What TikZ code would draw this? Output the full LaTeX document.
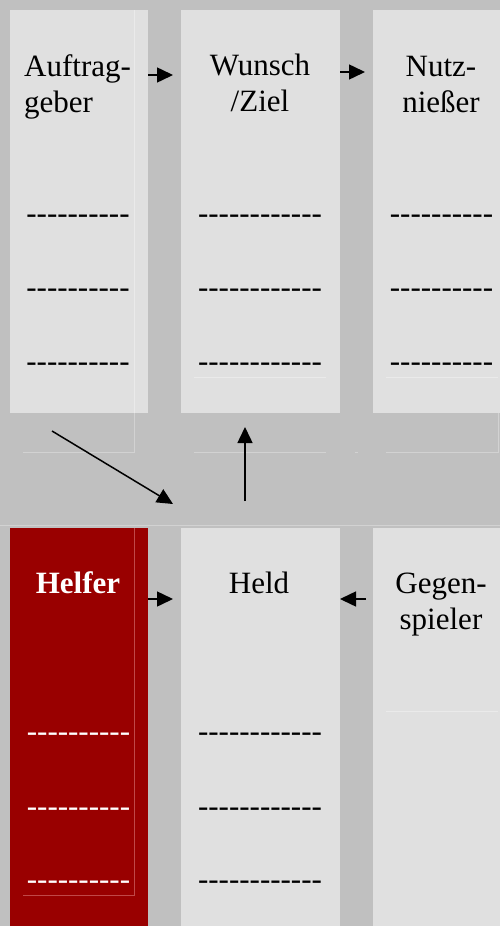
\documentclass[tikz,border=0pt]{standalone}
\usepackage{fontspec}
\setmainfont{Liberation Serif}
\usetikzlibrary{arrows.meta}

\definecolor{bggray}{HTML}{C0C0C0}
\definecolor{cellgray}{HTML}{E0E0E0}
\definecolor{helferred}{HTML}{990000}
\definecolor{rulegray}{HTML}{D2D2D2}
\definecolor{rulelight}{HTML}{EAEAEA}
\definecolor{rulered}{HTML}{C04848}

% a row of separate hyphens (no en/em dash ligatures)
\newcommand\hyphenrow[1]{\foreach \k in {1,...,#1}{\mbox{-}}}

\tikzset{
  cell/.style={fill=cellgray, draw=none, inner sep=0pt, outer sep=0pt},
  redcell/.style={cell, fill=helferred},
  lbl/.style={inner sep=0pt, font=\fontsize{31}{36}\selectfont},
  lblc/.style={lbl, align=center, anchor=base},
  dashrow/.style={lbl, anchor=base},
  conn/.style={line width=1.5pt, -{Triangle[length=16pt,width=15pt]}},
  faint/.style={line width=0.8pt, draw=rulegray},
}

\begin{document}
\begin{tikzpicture}[x=1pt,y=-1pt]
  % page background
  \fill[bggray] (0,0) rectangle (500,926);
  \useasboundingbox (0,0) rectangle (500,926);

  % column cells, top row
  \node[cell, minimum width=138pt, minimum height=403pt] (auf) at (79,211.5) {};
  \node[cell, minimum width=159pt, minimum height=403pt] (wun) at (260.5,211.5) {};
  \node[cell, minimum width=127pt, minimum height=403pt] (nutz) at (436.5,211.5) {};
  % column cells, bottom row
  \node[redcell, minimum width=138pt, minimum height=398pt] (helf) at (79,727) {};
  \node[cell, minimum width=159pt, minimum height=398pt] (held) at (260.5,727) {};
  \node[cell, minimum width=127pt, minimum height=398pt] (gegen) at (436.5,727) {};

  % faint table rules
  \draw[rulelight, line width=0.8pt] (134.5,10) -- (134.5,413);
  \draw[faint] (134.5,413) -- (134.5,452);
  \draw[faint] (23,452) -- (134.5,452);
  \draw[faint] (194,452) -- (326,452);
  \draw[faint] (355,452) -- (358,452);
  \draw[faint] (386,452) -- (498,452) -- (498,413);
  \draw[rulelight, line width=0.8pt] (194,377) -- (326,377);
  \draw[rulelight, line width=0.8pt] (386,377) -- (498,377);
  \draw[faint] (0,525) -- (500,525);
  \draw[rulered, line width=0.8pt] (134.5,528) -- (134.5,895) -- (23,895);
  \draw[rulelight, line width=0.8pt] (386,711.5) -- (498,711.5);

  % headings (base anchor sits on the last line)
  \node[lbl, align=left, anchor=base west] (tauf) at (24,112) {Auftrag-\\geber};
  \node[lblc] (twun) at (260,111) {Wunsch\\/Ziel};
  \node[lblc] (tnutz) at (441,112) {Nutz-\\nießer};
  \node[lblc, text=white, font=\fontsize{31}{36}\selectfont\bfseries] (thelf) at (78,593) {Helfer};
  \node[lblc] (theld) at (259,593) {Held};
  \node[lblc] (tgegen) at (441,629) {Gegen-\\spieler};

  % placeholder dash rows, top row
  \foreach \yy [count=\i] in {223,297,371} {
    \node[dashrow] (da\i) at (78,\yy) {\hyphenrow{10}};
    \node[dashrow] (db\i) at (260,\yy) {\hyphenrow{12}};
    \node[dashrow] (dc\i) at (441.5,\yy) {\hyphenrow{10}};
  }
  % placeholder dash rows, bottom row
  \foreach \yy [count=\i] in {741,816,889} {
    \node[dashrow, text=white] (dh\i) at (78.5,\yy) {\hyphenrow{10}};
    \node[dashrow] (dd\i) at (260,\yy) {\hyphenrow{12}};
  }

  % connector end points
  \coordinate (a1s) at (148,75);
  \coordinate (a1e) at (173,75);
  \coordinate (a2s) at (340,72);
  \coordinate (a2e) at (365,72);
  \coordinate (h1s) at (148,599);
  \coordinate (h1e) at (173,599);
  \coordinate (g1s) at (366,599);
  \coordinate (g1e) at (340,599);
  \coordinate (d1s) at (52,431);
  \coordinate (d1e) at (173,504);
  \coordinate (v1s) at (245,501);
  \coordinate (v1e) at (245,427);

  % connectors
  \draw[conn] (a1s) -- (a1e);
  \draw[conn] (a2s) -- (a2e);
  \draw[conn] (h1s) -- (h1e);
  \draw[conn] (g1s) -- (g1e);
  \draw[conn] (d1s) -- (d1e);
  \draw[conn] (v1s) -- (v1e);
\end{tikzpicture}
\end{document}
